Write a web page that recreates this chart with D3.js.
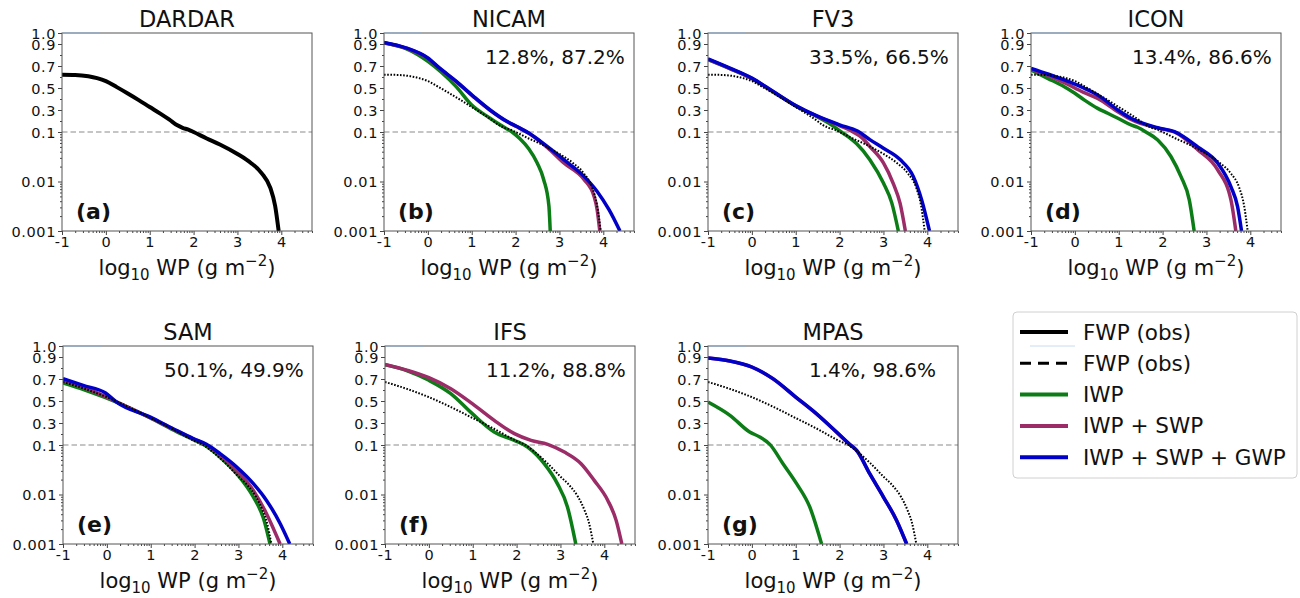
<!DOCTYPE html>
<html>
<head>
<meta charset="utf-8">
<script src="https://cdn.jsdelivr.net/npm/d3@7"></script>
<style>
  body { margin: 0; background: #fff; }
  svg { font-family: "DejaVu Sans", sans-serif; }
</style>
</head>
<body>
<svg id="chart" width="1300" height="598"></svg>
<script>
// x = log10 WP (g m-2), y = fraction exceeding
var obsDardar = [[-1,0.621],[-0.7,0.619],[-0.4,0.607],[-0.2,0.59],[0,0.563],[0.25,0.508],[0.5,0.45],[0.75,0.39],[1.0,0.327],[1.25,0.265],[1.45,0.212],[1.62,0.163],[1.75,0.138],[1.88,0.122],[2.0,0.1],[2.3,0.074],[2.6,0.056],[3.0,0.036],[3.3,0.024],[3.55,0.0148],[3.75,0.0074],[3.86,0.0032],[3.94,0.001]];
var obsBottom = [[-1,0.673],[-0.5,0.61],[0,0.535],[0.5,0.445],[1.0,0.345],[1.5,0.245],[2.0,0.135],[2.2,0.1],[2.4,0.074],[2.7,0.043],[3.0,0.023],[3.2,0.0155],[3.4,0.009],[3.55,0.0048],[3.65,0.0027],[3.75,0.001]];

var nicamIWP = [[-1,0.91],[-0.5,0.858],[0,0.742],[0.3,0.645],[0.65,0.51],[1.0,0.345],[1.4,0.23],[1.75,0.14],[1.92,0.1],[2.1,0.073],[2.3,0.046],[2.49,0.024],[2.64,0.011],[2.76,0.0032],[2.79,0.001]];
var nicamISWP = [[-1,0.912],[-0.5,0.862],[0,0.77],[0.27,0.677],[0.65,0.556],[1.04,0.42],[1.42,0.297],[1.8,0.195],[2.03,0.148],[2.3,0.094],[2.72,0.049],[3.1,0.0237],[3.56,0.011],[3.79,0.005],[3.86,0.0027],[3.92,0.001]];
var nicamIGWP = [[-1,0.915],[-0.5,0.865],[0,0.773],[0.27,0.68],[0.65,0.56],[1.04,0.424],[1.42,0.30],[1.8,0.197],[2.03,0.15],[2.3,0.095],[2.72,0.051],[3.1,0.0276],[3.56,0.0127],[3.86,0.0063],[4.13,0.0027],[4.38,0.001]];

var fv3IWP = [[-1,0.758],[-0.5,0.676],[0,0.586],[0.48,0.466],[1.0,0.337],[1.47,0.243],[1.75,0.182],[2.04,0.1],[2.2,0.08],[2.39,0.058],[2.69,0.0276],[3.0,0.0093],[3.19,0.0037],[3.34,0.001]];
var fv3ISWP = [[-1,0.76],[-0.5,0.677],[0,0.587],[0.48,0.467],[1.0,0.338],[1.47,0.246],[2.0,0.158],[2.31,0.1],[2.5,0.078],[2.69,0.051],[3.0,0.0237],[3.22,0.0093],[3.38,0.0036],[3.5,0.001]];
var fv3IGWP = [[-1,0.764],[-0.5,0.68],[0,0.59],[0.48,0.47],[1.0,0.34],[1.47,0.248],[2.0,0.165],[2.42,0.106],[2.69,0.07],[3.0,0.047],[3.38,0.0277],[3.68,0.0127],[3.87,0.0043],[4.05,0.001]];

var iconIWP = [[-1,0.664],[-0.62,0.588],[-0.24,0.512],[0,0.452],[0.22,0.39],[0.52,0.315],[0.75,0.27],[0.98,0.225],[1.28,0.164],[1.43,0.143],[1.62,0.1],[1.89,0.069],[2.19,0.032],[2.42,0.0125],[2.61,0.0042],[2.72,0.001]];
var iconISWP = [[-1,0.672],[-0.6,0.612],[-0.24,0.548],[0.2,0.46],[0.52,0.406],[0.98,0.285],[1.28,0.215],[1.89,0.135],[2.27,0.1],[2.8,0.044],[3.26,0.017],[3.56,0.0042],[3.67,0.001]];
var iconIGWP = [[-1,0.679],[-0.6,0.625],[-0.24,0.573],[0.2,0.5],[0.52,0.436],[0.98,0.3],[1.28,0.225],[1.89,0.139],[2.27,0.103],[2.8,0.05],[3.26,0.0233],[3.56,0.0078],[3.71,0.0031],[3.8,0.001]];

var samIWP = [[-1,0.664],[-0.5,0.6],[-0.03,0.53],[0.5,0.44],[0.98,0.348],[1.5,0.24],[1.97,0.148],[2.27,0.094],[2.58,0.057],[2.96,0.0264],[3.34,0.0089],[3.57,0.0033],[3.72,0.001]];
var samISWP = [[-1,0.688],[-0.5,0.62],[0,0.536],[0.5,0.44],[0.98,0.35],[1.51,0.245],[1.97,0.155],[2.27,0.1],[2.58,0.062],[2.96,0.0308],[3.34,0.0121],[3.64,0.0041],[3.95,0.001]];
var samIGWP = [[-1,0.703],[-0.54,0.642],[-0.03,0.573],[0.22,0.49],[0.98,0.355],[1.51,0.248],[1.97,0.158],[2.27,0.106],[2.58,0.067],[2.96,0.036],[3.34,0.0166],[3.64,0.0076],[3.95,0.0026],[4.17,0.001]];

var ifsIWP = [[-1,0.83],[-0.49,0.775],[0,0.688],[0.5,0.567],[0.99,0.385],[1.49,0.218],[1.95,0.142],[2.25,0.091],[2.63,0.042],[2.93,0.0166],[3.16,0.0056],[3.35,0.001]];
var ifsISWP = [[-1,0.833],[-0.49,0.779],[0,0.712],[0.5,0.612],[0.99,0.476],[1.49,0.324],[1.95,0.203],[2.33,0.142],[2.71,0.106],[3.09,0.072],[3.47,0.042],[3.77,0.0193],[4.08,0.0076],[4.27,0.003],[4.4,0.001]];

var mpasIWP = [[-1,0.491],[-0.5,0.37],[-0.05,0.218],[0.18,0.173],[0.41,0.106],[0.71,0.042],[1.02,0.0166],[1.32,0.0056],[1.59,0.001]];
var mpasISWP = [[-1,0.89],[-0.5,0.863],[0,0.808],[0.48,0.702],[1.0,0.535],[1.47,0.384],[1.93,0.217],[2.23,0.105],[2.39,0.077],[2.69,0.026],[3.0,0.0089],[3.3,0.003],[3.53,0.001]];
var mpasIGWP = [[-1,0.891],[-0.5,0.864],[0,0.809],[0.48,0.703],[1.0,0.536],[1.47,0.385],[1.93,0.218],[2.23,0.106],[2.39,0.078],[2.69,0.026],[3.0,0.0089],[3.3,0.003],[3.53,0.001]];

var panelTitles = ["DARDAR", "NICAM", "FV3", "ICON", "SAM", "IFS", "MPAS"];
var panelLetters = ["(a)", "(b)", "(c)", "(d)", "(e)", "(f)", "(g)"];
var panelPercents = ["", "12.8%, 87.2%", "33.5%, 66.5%", "13.4%, 86.6%", "50.1%, 49.9%", "11.2%, 88.8%", "1.4%, 98.6%"];

var xTicks = [-1, 0, 1, 2, 3, 4];
var yTicksLin = [0.1, 0.3, 0.5, 0.7, 0.9, 1.0];
var yTicksLog = [0.001, 0.01];
var legendLabels = ["FWP (obs)", "FWP (obs)", "IWP", "IWP + SWP", "IWP + SWP + GWP"];

var cGreen = "#0c7d16", cPurple = "#9b2c68", cBlue = "#0000c8";

// which series go in which panel
var panelSeries = [
  { obsSolid: obsDardar },
  { iwp: nicamIWP, iswp: nicamISWP, igwp: nicamIGWP, obs: obsDardar },
  { iwp: fv3IWP, iswp: fv3ISWP, igwp: fv3IGWP, obs: obsDardar },
  { iwp: iconIWP, iswp: iconISWP, igwp: iconIGWP, obs: obsDardar },
  { iwp: samIWP, iswp: samISWP, igwp: samIGWP, obs: obsBottom },
  { iwp: ifsIWP, iswp: ifsISWP, obs: obsBottom },
  { iwp: mpasIWP, iswp: mpasISWP, igwp: mpasIGWP, obs: obsBottom }
];

var panelPos = [[62,33],[384,33],[708,33],[1031,33],[63,346],[385,346],[708,346]];
var W = 250, H = 198;

var svg = d3.select("#chart");

var x = d3.scaleLinear().domain([-1, 4.7]).range([0, W]);
var yLin = d3.scaleLinear().domain([0.1, 1]).range([H / 2, 0]);
var yLog = d3.scaleLog().domain([0.001, 0.1]).range([H, H / 2]);
function y(v) { return v >= 0.1 ? yLin(v) : yLog(v); }

var xMinor = [];
for (var n = -1; n < 5; n++) {
  for (var k = 2; k <= 9; k++) {
    var t = n + Math.log10(k);
    if (t < 4.7) xMinor.push(t);
  }
}
var yMinorLog = [];
[0.001, 0.01].forEach(function(b) {
  for (var k = 2; k <= 9; k++) yMinorLog.push(b * k);
});
var yMinorLin = [0.2, 0.4, 0.6, 0.8];

var line = d3.line()
  .x(function(d) { return x(d[0]); })
  .y(function(d) { return y(d[1]); })
  .curve(d3.curveMonotoneX);

panelPos.forEach(function(p, i) {
  var g = svg.append("g").attr("transform", "translate(" + p[0] + "," + p[1] + ")");
  var s = panelSeries[i];

  g.append("clipPath").attr("id", "clip" + i)
    .append("rect").attr("width", W).attr("height", H);

  // reference line at 0.1
  g.append("line")
    .attr("x1", 0).attr("x2", W)
    .attr("y1", y(0.1)).attr("y2", y(0.1))
    .attr("stroke", "#8c8c8c").attr("stroke-width", 1.1)
    .attr("stroke-dasharray", "5.5,3");

  var lines = g.append("g").attr("clip-path", "url(#clip" + i + ")");
  if (s.obsSolid) {
    lines.append("path").datum(s.obsSolid).attr("d", line)
      .attr("fill", "none").attr("stroke", "#000").attr("stroke-width", 4);
  }
  if (s.iwp) lines.append("path").datum(s.iwp).attr("d", line)
    .attr("fill", "none").attr("stroke", cGreen).attr("stroke-width", 3.5);
  if (s.iswp) lines.append("path").datum(s.iswp).attr("d", line)
    .attr("fill", "none").attr("stroke", cPurple).attr("stroke-width", 3.5);
  if (s.igwp) lines.append("path").datum(s.igwp).attr("d", line)
    .attr("fill", "none").attr("stroke", cBlue).attr("stroke-width", 3.5);
  if (s.obs) lines.append("path").datum(s.obs).attr("d", line)
    .attr("fill", "none").attr("stroke", "#000").attr("stroke-width", 2)
    .attr("stroke-dasharray", "1.6,1.6");

  // axes
  var xa = g.append("g").attr("transform", "translate(0," + H + ")")
    .call(d3.axisBottom(x).tickValues(xTicks).tickSize(4).tickPadding(2)
      .tickFormat(function(d) { return String(d); }));
  var xm = g.append("g").attr("transform", "translate(0," + H + ")")
    .call(d3.axisBottom(x).tickValues(xMinor).tickSize(2).tickFormat(""));
  var fmt = function(d) { return d === 1 ? "1.0" : String(d); };
  var ya = g.append("g").call(d3.axisLeft(yLin).tickValues(yTicksLin).tickSize(4).tickPadding(2).tickFormat(fmt));
  var yb = g.append("g").call(d3.axisLeft(yLog).tickValues(yTicksLog).tickSize(4).tickPadding(2).tickFormat(fmt));
  var yc = g.append("g").call(d3.axisLeft(yLin).tickValues(yMinorLin).tickSize(2).tickFormat(""));
  var yd = g.append("g").call(d3.axisLeft(yLog).tickValues(yMinorLog).tickSize(2).tickFormat(""));
  [xa, xm, ya, yb, yc, yd].forEach(function(a) {
    a.select(".domain").remove();
    a.selectAll("line").attr("stroke", "#444");
    a.selectAll("text").attr("font-size", 14.5).attr("letter-spacing", 0.6)
      .attr("fill", "#111").attr("font-family", "DejaVu Sans");
  });
  [ya, yb].forEach(function(a) { a.selectAll("text").attr("dy", "0.36em"); });

  g.append("rect").attr("width", W).attr("height", H)
    .attr("fill", "none").attr("stroke", "#555").attr("stroke-width", 1);
  g.append("line").attr("x1", 0.5).attr("x2", 38).attr("y1", 0).attr("y2", 0)
    .attr("stroke", "#8fb0d6").attr("stroke-width", 1.2);

  // title
  g.append("text").attr("x", W / 2).attr("y", -6)
    .attr("text-anchor", "middle").attr("font-size", 22.5).attr("fill", "#111")
    .text(panelTitles[i]);

  // panel letter
  g.append("text").attr("x", 14).attr("y", H - 12)
    .attr("font-size", 22).attr("font-weight", "bold").attr("fill", "#111")
    .text(panelLetters[i]);

  if (panelPercents[i]) {
    g.append("text").attr("x", 101).attr("y", 31)
      .attr("font-size", 20).attr("fill", "#111")
      .text(panelPercents[i]);
  }

  // x label
  var xl = g.append("text").attr("x", W / 2).attr("y", H + 44)
    .attr("text-anchor", "middle").attr("font-size", 21).attr("fill", "#111");
  xl.append("tspan").text("log");
  xl.append("tspan").attr("font-size", 15).attr("dy", 5).text("10");
  xl.append("tspan").attr("dy", -5).text(" WP (g m");
  xl.append("tspan").attr("font-size", 15).attr("dy", -9).text("\u22122");
  xl.append("tspan").attr("dy", 9).text(")");
});

// legend
var lg = svg.append("g").attr("transform", "translate(1013,312)");
lg.append("rect").attr("width", 284).attr("height", 166).attr("rx", 4)
  .attr("fill", "#fff").attr("stroke", "#d0d0d0").attr("stroke-width", 1);
var legendStyle = [
  { color: "#000", width: 4, dash: null },
  { color: "#000", width: 3, dash: "11,7" },
  { color: cGreen, width: 4, dash: null },
  { color: cPurple, width: 4, dash: null },
  { color: cBlue, width: 4, dash: null }
];
lg.append("line").attr("x1", 17).attr("x2", 62).attr("y1", 34).attr("y2", 34)
  .attr("stroke", "#c8dcef").attr("stroke-width", 1);
legendLabels.forEach(function(lbl, i) {
  var yy = 20 + i * 31.3;
  lg.append("line").attr("x1", 7).attr("x2", 55).attr("y1", yy).attr("y2", yy)
    .attr("stroke", legendStyle[i].color).attr("stroke-width", legendStyle[i].width)
    .attr("stroke-dasharray", legendStyle[i].dash);
  lg.append("text").attr("x", 70).attr("y", yy + 7.5)
    .attr("font-size", 21.5).attr("fill", "#111").text(lbl);
});
</script>
</body>
</html>
